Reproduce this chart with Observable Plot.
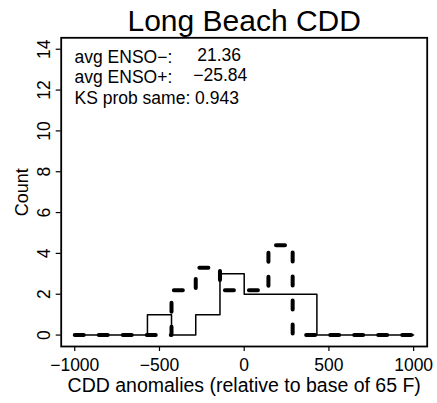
<!DOCTYPE html>
<html><head><meta charset="utf-8">
<script src="https://cdn.jsdelivr.net/npm/d3@7"></script>
<script src="https://cdn.jsdelivr.net/npm/@observablehq/plot@0.6"></script>
<style>body{margin:0;background:#fff} svg{display:block}</style>
</head><body><div id="chart"></div>
<script>
// ---- data ----
const binEdges = [-1000, -857, -714, -571, -429, -286, -143, 0, 143, 286, 429, 571, 714, 857, 1000];
const countsEnsoPlus  = [0, 0, 0, 1, 0, 1, 3, 2, 2, 2, 0, 0, 0, 0];        // solid
const countsEnsoMinus = [0, 0, 0, 0, 2.2, 3.3, 2.2, 2.2, 4.4, 0, 0, 0, 0, 0]; // thick dashed
const xTicks = [-1000, -500, 0, 500, 1000];
const yTicks = [0, 2, 4, 6, 8, 10, 12, 14];
const titleText = "Long Beach CDD";
const xLabel = "CDD anomalies (relative to base of 65 F)";
const yLabel = "Count";
const annotLabels = ["avg ENSO−:", "avg ENSO+:", "KS prob same: 0.943"];
const annotMinus = "21.36";
const annotPlus = "−25.84";

// step series
function steps(counts) {
  const rows = counts.map((c, i) => ({x: binEdges[i], y: c}));
  rows.push({x: binEdges[binEdges.length - 1], y: counts[counts.length - 1]});
  return rows;
}
const stepPlus = steps(countsEnsoPlus);
const stepMinus = steps(countsEnsoMinus);

const font = "'Liberation Sans', Arial, Helvetica, sans-serif";
const chart = Plot.plot({
  width: 437, height: 403,
  marginLeft: 60.7, marginRight: 10.3, marginTop: 37.3, marginBottom: 57,
  style: {fontFamily: font, fontSize: "17.5px", background: "#fff", color: "#000"},
  x: {domain: [-1080, 1080]},
  y: {domain: [-0.56, 14.56]},
  marks: [
    Plot.axisX({ticks: xTicks, tickFormat: d3.format("d"), tickSize: 5, tickPadding: 7.5, label: null, fontSize: 17.5, strokeWidth: 1.2}),
    Plot.axisY({ticks: yTicks, tickFormat: d3.format("d"), tickSize: 5, tickPadding: 6.7, tickRotate: -90, label: null, fontSize: 17.5, strokeWidth: 1.2}),
    Plot.frame({stroke: "#000", strokeWidth: 1.8}),
    Plot.line(stepPlus, {x: "x", y: "y", curve: "step-after", stroke: "#000", strokeWidth: 1.5}),
    Plot.line(stepMinus, {x: "x", y: "y", curve: "step-after", stroke: "#000", strokeWidth: 4,
      strokeDasharray: "9,15", strokeLinecap: "round", strokeLinejoin: "round"}),
    Plot.text([titleText], {text: d => d, frameAnchor: "top", dy: -6.8, lineAnchor: "bottom", fontSize: 30, fill: "#000"}),
    Plot.text([yLabel], {text: d => d, frameAnchor: "left", dx: -33.7, rotate: -90, lineAnchor: "bottom", textAnchor: "middle", fontSize: 18, fill: "#000"}),
    Plot.text([xLabel], {text: d => d, frameAnchor: "bottom", dy: 45, lineAnchor: "bottom", fontSize: 19.5, fill: "#000"}),
    Plot.text([annotLabels.join("\n")], {text: d => d, frameAnchor: "top-left", dx: 13.3, dy: 10.3, lineAnchor: "top", textAnchor: "start", lineHeight: 1.171, fontSize: 17.5, fill: "#000"}),
    Plot.text([annotMinus], {text: d => d, frameAnchor: "top-left", dx: 136, dy: 10.3, lineAnchor: "top", textAnchor: "start", fontSize: 17.5, fill: "#000"}),
    Plot.text([annotPlus], {text: d => d, frameAnchor: "top-left", dx: 132, dy: 30.8, lineAnchor: "top", textAnchor: "start", fontSize: 17.5, fill: "#000"})
  ]
});
document.getElementById("chart").appendChild(chart);
</script>
</body></html>
